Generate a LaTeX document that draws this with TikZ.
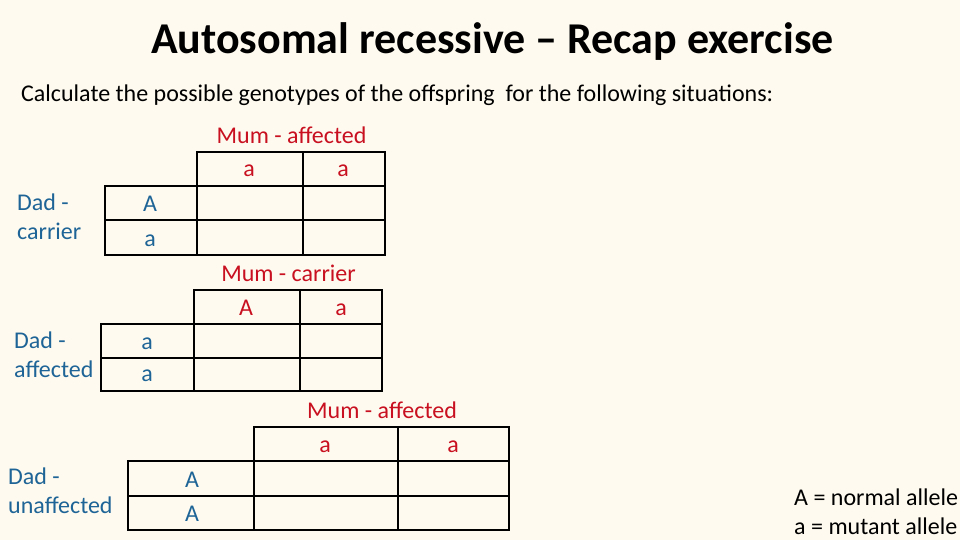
\documentclass[tikz,border=0pt]{standalone}
\usepackage{fontspec}
\setmainfont{Carlito}
\definecolor{bg}{RGB}{254,250,239}
\definecolor{mumred}{RGB}{200,16,32}
\definecolor{dadblue}{RGB}{30,100,150}
\begin{document}
\begin{tikzpicture}[x=1pt,y=-1pt,
  grid/.style={line width=2pt,black},
  txt/.style={font=\fontsize{24}{29}\selectfont,inner sep=0pt},
  mum/.style={txt,text=mumred,anchor=base},
  dad/.style={txt,text=dadblue,anchor=base},
  dadlbl/.style={txt,text=dadblue,anchor=base west},
  plain/.style={txt,text=black,anchor=base west}]
\fill[bg] (0,0) rectangle (960,540);
\useasboundingbox (0,0) rectangle (960,540);
% title
\node[font=\fontsize{44}{52}\selectfont\bfseries,inner sep=0pt,anchor=base] (title) at (492.5,53.5) {Autosomal recessive – Recap exercise};
\node[font=\fontsize{24}{29}\selectfont,inner sep=0pt,anchor=base west] (sub) at (21,102) {Calculate the possible genotypes of the offspring\ \ for the following situations:};
% ---- table 1
\draw[grid] (196.7,152.3) rectangle (385,255);
\draw[grid] (104.7,186) rectangle (196.7,255);
\draw[grid] (104.7,220) -- (385,220);
\draw[grid] (196.7,186) -- (385,186);
\draw[grid] (302.7,152.3) -- (302.7,255);
\node[mum] (m1) at (291.5,143.3) {Mum - affected};
\node[mum] (m1a) at (249,177) {a};
\node[mum] (m1b) at (343,177) {a};
\node[dad] (d1a) at (150,211) {A};
\node[dad] (d1b) at (150,246) {a};
\node[dadlbl] (d1) at (17,210.5) {Dad -};
\node[dadlbl] (d1x) at (17,239.5) {carrier};
% ---- table 2
\draw[grid] (194,290) rectangle (381.7,390.7);
\draw[grid] (101.3,324) rectangle (194,390.7);
\draw[grid] (101.3,358.3) -- (381.7,358.3);
\draw[grid] (194,324) -- (381.7,324);
\draw[grid] (300,290) -- (300,390.7);
\node[mum] (m2) at (288.5,281) {Mum - carrier};
\node[mum] (m2a) at (246,315) {A};
\node[mum] (m2b) at (341,315) {a};
\node[dad] (d2a) at (147,349.3) {a};
\node[dad] (d2b) at (147,381.7) {a};
\node[dadlbl] (d2) at (14,348.3) {Dad -};
\node[dadlbl] (d2x) at (14,377.3) {affected};
% ---- table 3
\draw[grid] (254,427.3) rectangle (509.3,530);
\draw[grid] (128.3,461) rectangle (254,530);
\draw[grid] (128.3,496) -- (509.3,496);
\draw[grid] (254,461) -- (509.3,461);
\draw[grid] (398.3,427.3) -- (398.3,530);
\node[mum] (m3) at (382,418.3) {Mum - affected};
\node[mum] (m3a) at (325,452) {a};
\node[mum] (m3b) at (453,452) {a};
\node[dad] (d3a) at (192,487) {A};
\node[dad] (d3b) at (192,521) {A};
\node[dadlbl] (d3) at (8,484.3) {Dad -};
\node[dadlbl] (d3x) at (8,513) {unaffected};
% legend
\node[plain] (leg1) at (794,505) {A = normal allele};
\node[plain] (leg2) at (794,534) {a = mutant allele};
\end{tikzpicture}
\end{document}
